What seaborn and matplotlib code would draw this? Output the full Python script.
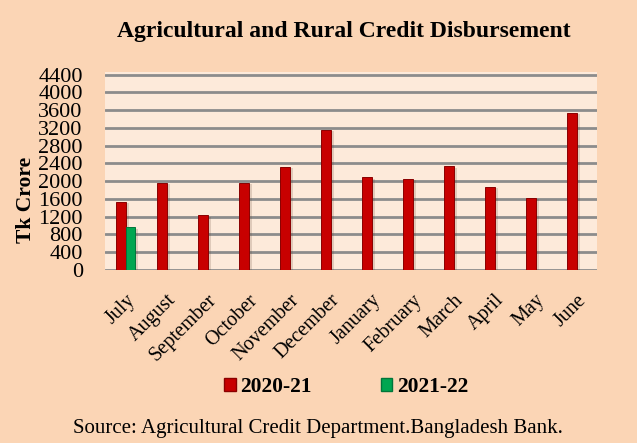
import numpy as np
import pandas as pd
import matplotlib
matplotlib.use("Agg")
import matplotlib.pyplot as plt
from matplotlib.patches import Patch
import matplotlib.patheffects as pe
import seaborn as sns

months = ["July", "August", "September", "October", "November", "December",
          "January", "February", "March", "April", "May", "June"]
fy2021 = [1530, 1960, 1235, 1960, 2320, 3160, 2090, 2050, 2340, 1870, 1620, 3540]
fy2122 = [960, np.nan, np.nan, np.nan, np.nan, np.nan, np.nan, np.nan, np.nan, np.nan, np.nan, np.nan]
series = ["2020-21", "2021-22"]
yticks = list(range(0, 4401, 400))

df = pd.DataFrame({
    "Month": months * 2,
    "Value": fy2021 + fy2122,
    "Year": [series[0]] * 12 + [series[1]] * 12,
})

sns.set_theme(style="white")
plt.rcParams["font.family"] = ["Liberation Serif", "DejaVu Serif"]
for k in ["text.color", "axes.labelcolor", "xtick.color", "ytick.color"]:
    plt.rcParams[k] = "black"

fig_bg = "#FBD5B5"
ax_bg = "#FDEADA"
red = "#C80000"
green = "#00A651"
red_edge = "#8A0000"
green_edge = "#00753A"

fig = plt.figure(figsize=(6.37, 4.43), dpi=100, facecolor=fig_bg)
ax = fig.add_axes([105 / 637, 1 - 270 / 443, 492 / 637, 198 / 443])
ax.set_facecolor(ax_bg)

sns.barplot(data=df, x="Month", y="Value", hue="Year", palette=[red, green],
            width=0.44, dodge=True, ax=ax, legend=False, zorder=3,
            edgecolor=red_edge, linewidth=0.7, saturation=1)
for p in ax.patches:
    fc = p.get_facecolor()
    if fc[1] > 0.5:
        p.set_edgecolor(green_edge)
    p.set_path_effects([pe.SimplePatchShadow(offset=(2.5, -1), alpha=0.18, shadow_rgbFace="#5a3a2a"),
                        pe.Normal()])

ax.set_ylim(0, 4460)
ax.set_xlim(-0.5, 11.5)
ax.set_yticks(yticks)
ax.set_yticklabels([str(v) for v in yticks], fontsize=16)
ax.tick_params(axis="y", length=0, pad=16)
ax.tick_params(axis="x", length=0, pad=15)
for y in yticks:
    ax.axhline(y, color="#8C8C8C", lw=2.0, zorder=1)
ax.set_xticks(range(12))
ax.set_xticklabels(months, rotation=45, ha="right", rotation_mode="anchor", fontsize=14.5)
for s in ax.spines.values():
    s.set_visible(False)
ax.set_xlabel("")
ax.set_ylabel("Tk Crore", fontsize=15.5, fontweight="bold", labelpad=0)
ax.yaxis.set_label_coords(-0.14, 0.354)

fig.text(344 / 637, 1 - 32 / 443, "Agricultural and Rural Credit Disbursement",
         ha="center", va="center", fontsize=17, fontweight="bold")

handles = [Patch(facecolor=red, edgecolor=red_edge, label=series[0]),
           Patch(facecolor=green, edgecolor=green_edge, label=series[1])]
leg = fig.legend(handles=handles, loc="center", bbox_to_anchor=(346 / 637, 1 - 387 / 443),
                 ncol=2, frameon=False, handlelength=0.55, handleheight=0.55,
                 handletextpad=0.2, columnspacing=3.2,
                 prop={"weight": "bold", "size": 15.5})

fig.text(318 / 637, 1 - 428 / 443, "Source: Agricultural Credit Department.Bangladesh Bank.",
         ha="center", va="center", fontsize=15)

fig.savefig("out.png", dpi=100, facecolor=fig_bg)
